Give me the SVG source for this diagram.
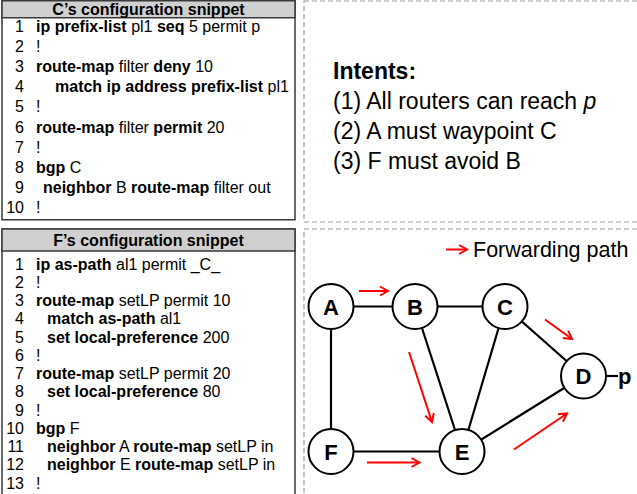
<svg xmlns="http://www.w3.org/2000/svg" width="637" height="494" viewBox="0 0 637 494">
<style>
.code{font-family:"Liberation Sans",Arial,sans-serif;font-size:16px;fill:#000}
.b{font-weight:bold}
.num{text-anchor:end}
.hdr{font-family:"Liberation Sans",Arial,sans-serif;font-size:16px;font-weight:bold;text-anchor:middle}
.big{font-family:"Liberation Sans",Arial,sans-serif;font-size:21.5px;fill:#000}
.intent{font-family:"Liberation Sans",Arial,sans-serif;font-size:23px;fill:#000}
.box{fill:#fff;stroke:#3a3a3a;stroke-width:1.5}
.hband{fill:#d0d0d0;stroke:#3a3a3a;stroke-width:1.5}
.dash{fill:none;stroke:#a0a0a0;stroke-width:1.2;stroke-dasharray:5 3}
.edge{stroke:#000;stroke-width:2.2;fill:none}
.node circle{fill:#fff;stroke:#000;stroke-width:2}
.node text{font-family:"Liberation Sans",Arial,sans-serif;font-size:22px;font-weight:bold;text-anchor:middle}
.fwd{stroke:#f00;stroke-width:2;fill:none;marker-end:url(#ah)}
</style>
<defs>
<marker id="ah" markerUnits="userSpaceOnUse" markerWidth="12" markerHeight="12" refX="10" refY="6" orient="auto">
<path d="M2,1.5 L10,6 L2,10.5" fill="none" stroke="#f00" stroke-width="2"/>
</marker>
</defs>

<!-- dashed panels -->
<rect class="dash" x="304" y="1" width="340" height="221"/>
<rect class="dash" x="304" y="229" width="340" height="280"/>

<!-- C's config -->
<g id="c-config">
<rect class="box" x="2" y="0.75" width="293" height="219"/>
<rect class="hband" x="2" y="0.75" width="293" height="17"/>
<text class="hdr" x="148.5" y="14.5">C’s configuration snippet</text>
<g class="code">
<text class="num" x="24" y="32">1</text><text x="36" y="32"><tspan class="b">ip prefix-list</tspan> pl1 <tspan class="b">seq</tspan> 5 permit p</text>
<text class="num" x="24" y="52.1">2</text><text x="36" y="52.1">!</text>
<text class="num" x="24" y="72.2">3</text><text x="36" y="72.2"><tspan class="b">route-map</tspan> filter <tspan class="b">deny</tspan> 10</text>
<text class="num" x="24" y="92.3">4</text><text x="55" y="92.3"><tspan class="b">match ip address prefix-list</tspan> pl1</text>
<text class="num" x="24" y="112.4">5</text><text x="36" y="112.4">!</text>
<text class="num" x="24" y="132.5">6</text><text x="36" y="132.5"><tspan class="b">route-map</tspan> filter <tspan class="b">permit</tspan> 20</text>
<text class="num" x="24" y="152.6">7</text><text x="36" y="152.6">!</text>
<text class="num" x="24" y="172.7">8</text><text x="36" y="172.7"><tspan class="b">bgp</tspan> C</text>
<text class="num" x="24" y="192.8">9</text><text x="43" y="192.8"><tspan class="b">neighbor</tspan> B <tspan class="b">route-map</tspan> filter out</text>
<text class="num" x="24" y="212.9">10</text><text x="36" y="212.9">!</text>
</g>
</g>

<!-- F's config -->
<g id="f-config">
<rect class="box" x="2" y="229" width="293" height="280"/>
<rect class="hband" x="2" y="229" width="293" height="22"/>
<text class="hdr" x="148.5" y="245.5">F’s configuration snippet</text>
<g class="code">
<text class="num" x="24" y="269.5">1</text><text x="36" y="269.5"><tspan class="b">ip as-path</tspan> al1 permit _C_</text>
<text class="num" x="24" y="287.75">2</text><text x="36" y="287.75">!</text>
<text class="num" x="24" y="306">3</text><text x="36" y="306"><tspan class="b">route-map</tspan> setLP permit 10</text>
<text class="num" x="24" y="324.25">4</text><text x="47" y="324.25"><tspan class="b">match as-path</tspan> al1</text>
<text class="num" x="24" y="342.5">5</text><text x="47" y="342.5"><tspan class="b">set local-preference</tspan> 200</text>
<text class="num" x="24" y="360.75">6</text><text x="36" y="360.75">!</text>
<text class="num" x="24" y="379">7</text><text x="36" y="379"><tspan class="b">route-map</tspan> setLP permit 20</text>
<text class="num" x="24" y="397.25">8</text><text x="47" y="397.25"><tspan class="b">set local-preference</tspan> 80</text>
<text class="num" x="24" y="415.5">9</text><text x="36" y="415.5">!</text>
<text class="num" x="24" y="433.75">10</text><text x="36" y="433.75"><tspan class="b">bgp</tspan> F</text>
<text class="num" x="24" y="452">11</text><text x="47" y="452"><tspan class="b">neighbor</tspan> A <tspan class="b">route-map</tspan> setLP in</text>
<text class="num" x="24" y="470.25">12</text><text x="47" y="470.25"><tspan class="b">neighbor</tspan> E <tspan class="b">route-map</tspan> setLP in</text>
<text class="num" x="24" y="488.5">13</text><text x="36" y="488.5">!</text>
</g>
</g>

<!-- intents -->
<g id="intents" class="intent">
<text x="333" y="79" font-weight="bold">Intents:</text>
<text x="333" y="109">(1) All routers can reach <tspan font-style="italic">p</tspan></text>
<text x="333" y="139">(2) A must waypoint C</text>
<text x="333" y="169">(3) F must avoid B</text>
</g>

<!-- legend -->
<g id="legend">
<line class="fwd" x1="446" y1="249.5" x2="467" y2="249.5"/>
<text class="big" x="473" y="257">Forwarding path</text>
</g>

<!-- connectors -->
<g id="connectors">
<line class="edge" x1="331" y1="306.5" x2="415" y2="306.5"/>
<line class="edge" x1="415" y1="306.5" x2="505" y2="306.5"/>
<line class="edge" x1="331" y1="306.5" x2="331" y2="451.5"/>
<line class="edge" x1="331" y1="451.5" x2="462" y2="451.5"/>
<line class="edge" x1="415" y1="306.5" x2="462" y2="451.5"/>
<line class="edge" x1="505" y1="306.5" x2="462" y2="451.5"/>
<line class="edge" x1="505" y1="306.5" x2="583.5" y2="376"/>
<line class="edge" x1="462" y1="451.5" x2="583.5" y2="376"/>
<line class="edge" x1="605" y1="376" x2="618" y2="376"/>
<line class="fwd" x1="359" y1="291" x2="388" y2="291"/>
<line class="fwd" x1="545" y1="319.5" x2="572" y2="339"/>
<line class="fwd" x1="409" y1="352" x2="432" y2="422"/>
<line class="fwd" x1="367" y1="462.5" x2="419.5" y2="462.5"/>
<line class="fwd" x1="514" y1="449.5" x2="567" y2="413.5"/>
</g>

<!-- nodes -->
<g id="node-A" class="node"><circle cx="331" cy="306.5" r="22.5"/><text x="331" y="314.5">A</text></g>
<g id="node-B" class="node"><circle cx="415" cy="306.5" r="22.5"/><text x="415" y="314.5">B</text></g>
<g id="node-C" class="node"><circle cx="505" cy="306.5" r="22.5"/><text x="505" y="314.5">C</text></g>
<g id="node-D" class="node"><circle cx="583.5" cy="376" r="22.5"/><text x="583.5" y="384">D</text></g>
<g id="node-E" class="node"><circle cx="462" cy="451.5" r="22.5"/><text x="462" y="459.5">E</text></g>
<g id="node-F" class="node"><circle cx="331" cy="451.5" r="22.5"/><text x="331" y="459.5">F</text></g>
<g id="prefix-p"><text x="618" y="384" font-family="'Liberation Sans',Arial,sans-serif" font-size="22" font-weight="bold">p</text></g>
</svg>
